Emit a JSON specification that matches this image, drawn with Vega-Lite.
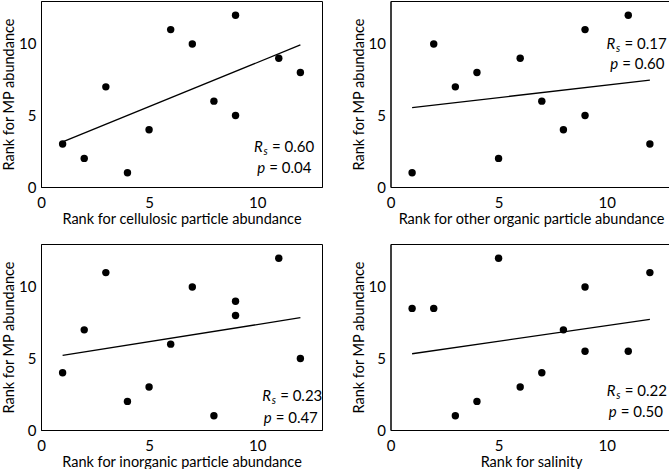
{
  "$schema": "https://vega.github.io/schema/vega-lite/v6.json",
  "padding": {"left": 1, "top": 0, "right": 0, "bottom": 0},
  "config": {
    "font": "Lato",
    "view": {"stroke": "black", "strokeWidth": 1},
    "axis": {
      "grid": false,
      "domainColor": "black",
      "labelColor": "black",
      "titleColor": "black",
      "labelFont": "Lato",
      "titleFont": "Lato",
      "labelFontSize": 15,
      "titleFontSize": 14.5,
      "titleFontWeight": "normal",
      "ticks": false,
      "tickSize": 0,
      "labelFlush": false,
      "labelOverlap": false
    },
    "axisX": {"labelPadding": 8, "titlePadding": 2},
    "axisY": {"labelPadding": 5, "titlePadding": 2}
  },
  "datasets": {
    "pts": [
      {"panel": "cellulosic", "xr": 1, "yr": 3}, {"panel": "cellulosic", "xr": 2, "yr": 2}, {"panel": "cellulosic", "xr": 3, "yr": 7}, {"panel": "cellulosic", "xr": 4, "yr": 1}, {"panel": "cellulosic", "xr": 5, "yr": 4}, {"panel": "cellulosic", "xr": 6, "yr": 11}, {"panel": "cellulosic", "xr": 7, "yr": 10}, {"panel": "cellulosic", "xr": 8, "yr": 6}, {"panel": "cellulosic", "xr": 9, "yr": 12}, {"panel": "cellulosic", "xr": 9, "yr": 5}, {"panel": "cellulosic", "xr": 11, "yr": 9}, {"panel": "cellulosic", "xr": 12, "yr": 8},
      {"panel": "organic", "xr": 1, "yr": 1}, {"panel": "organic", "xr": 2, "yr": 10}, {"panel": "organic", "xr": 3, "yr": 7}, {"panel": "organic", "xr": 4, "yr": 8}, {"panel": "organic", "xr": 5, "yr": 2}, {"panel": "organic", "xr": 6, "yr": 9}, {"panel": "organic", "xr": 7, "yr": 6}, {"panel": "organic", "xr": 8, "yr": 4}, {"panel": "organic", "xr": 9, "yr": 11}, {"panel": "organic", "xr": 9, "yr": 5}, {"panel": "organic", "xr": 11, "yr": 12}, {"panel": "organic", "xr": 12, "yr": 3},
      {"panel": "inorganic", "xr": 1, "yr": 4}, {"panel": "inorganic", "xr": 2, "yr": 7}, {"panel": "inorganic", "xr": 3, "yr": 11}, {"panel": "inorganic", "xr": 4, "yr": 2}, {"panel": "inorganic", "xr": 5, "yr": 3}, {"panel": "inorganic", "xr": 6, "yr": 6}, {"panel": "inorganic", "xr": 7, "yr": 10}, {"panel": "inorganic", "xr": 8, "yr": 1}, {"panel": "inorganic", "xr": 9, "yr": 9}, {"panel": "inorganic", "xr": 9, "yr": 8}, {"panel": "inorganic", "xr": 11, "yr": 12}, {"panel": "inorganic", "xr": 12, "yr": 5},
      {"panel": "salinity", "xr": 1, "yr": 8.5}, {"panel": "salinity", "xr": 2, "yr": 8.5}, {"panel": "salinity", "xr": 3, "yr": 1}, {"panel": "salinity", "xr": 4, "yr": 2}, {"panel": "salinity", "xr": 5, "yr": 12}, {"panel": "salinity", "xr": 6, "yr": 3}, {"panel": "salinity", "xr": 7, "yr": 4}, {"panel": "salinity", "xr": 8, "yr": 7}, {"panel": "salinity", "xr": 9, "yr": 10}, {"panel": "salinity", "xr": 9, "yr": 5.5}, {"panel": "salinity", "xr": 11, "yr": 5.5}, {"panel": "salinity", "xr": 12, "yr": 11}
    ],
    "fit": [
      {"panel": "cellulosic", "xr": 1, "yr": 3.15}, {"panel": "cellulosic", "xr": 12, "yr": 9.93},
      {"panel": "organic", "xr": 1, "yr": 5.55}, {"panel": "organic", "xr": 12, "yr": 7.47},
      {"panel": "inorganic", "xr": 1, "yr": 5.21}, {"panel": "inorganic", "xr": 12, "yr": 7.85},
      {"panel": "salinity", "xr": 1, "yr": 5.33}, {"panel": "salinity", "xr": 12, "yr": 7.73}
    ],
    "anno": [
      {"panel": "cellulosic", "sym": "R", "rest": "= 0.60", "xr": 9.85, "yr": 2.78},
      {"panel": "cellulosic", "sym": "p", "rest": "= 0.04", "xr": 10.0, "yr": 1.33},
      {"panel": "organic", "sym": "R", "rest": "= 0.17", "xr": 9.99, "yr": 10.02},
      {"panel": "organic", "sym": "p", "rest": "= 0.60", "xr": 10.17, "yr": 8.58},
      {"panel": "inorganic", "sym": "R", "rest": "= 0.23", "xr": 10.23, "yr": 2.35},
      {"panel": "inorganic", "sym": "p", "rest": "= 0.47", "xr": 10.3, "yr": 0.81},
      {"panel": "salinity", "sym": "R", "rest": "= 0.22", "xr": 10.0, "yr": 2.75},
      {"panel": "salinity", "sym": "p", "rest": "= 0.50", "xr": 10.1, "yr": 1.23}
    ],
    "minor": [{"v": 1}, {"v": 2}, {"v": 3}, {"v": 4}, {"v": 5}, {"v": 6}, {"v": 7}, {"v": 8}, {"v": 9}, {"v": 10}, {"v": 11}, {"v": 12}]
  },
  "columns": 2,
  "spacing": {"row": 57, "column": 68.5},
  "bounds": "flush",
  "concat": [
    {
      "width": 281, "height": 186,
      "encoding": {
        "x": {"field": "xr", "type": "quantitative", "scale": {"domain": [0, 13], "nice": false, "zero": false}, "axis": {"values": [0, 5, 10]}, "title": "Rank for cellulosic particle abundance"},
        "y": {"field": "yr", "type": "quantitative", "scale": {"domain": [0, 13], "nice": false, "zero": false}, "axis": {"values": [0, 5, 10]}, "title": "Rank for MP abundance"}
      },
      "layer": [
        {"data": {"name": "minor"}, "mark": {"type": "tick", "orient": "vertical", "color": "black", "size": 4, "thickness": 1, "yOffset": -2}, "encoding": {"x": {"field": "v", "type": "quantitative"}, "y": {"datum": 0, "type": "quantitative"}}},
        {"data": {"name": "minor"}, "mark": {"type": "tick", "orient": "horizontal", "color": "black", "size": 4, "thickness": 1, "xOffset": 2}, "encoding": {"y": {"field": "v", "type": "quantitative"}, "x": {"datum": 0, "type": "quantitative"}}},
        {"data": {"name": "pts"}, "transform": [{"filter": "datum.panel == 'cellulosic'"}], "mark": {"type": "point", "filled": true, "color": "black", "opacity": 1, "size": 55}},
        {"data": {"name": "fit"}, "transform": [{"filter": "datum.panel == 'cellulosic'"}], "mark": {"type": "line", "color": "black", "strokeWidth": 1.3}},
        {"data": {"name": "anno"}, "transform": [{"filter": "datum.panel == 'cellulosic'"}], "mark": {"type": "text", "align": "left", "baseline": "middle", "fontStyle": "italic", "fontSize": 15, "color": "black"}, "encoding": {"text": {"field": "sym"}}},
        {"data": {"name": "anno"}, "transform": [{"filter": "datum.panel == 'cellulosic' && datum.sym == 'R'"}], "mark": {"type": "text", "align": "left", "baseline": "middle", "fontStyle": "italic", "fontSize": 10.5, "dx": 9.5, "dy": 5, "color": "black"}, "encoding": {"text": {"value": "s"}}},
        {"data": {"name": "anno"}, "transform": [{"filter": "datum.panel == 'cellulosic' && datum.sym == 'R'"}], "mark": {"type": "text", "align": "left", "baseline": "middle", "fontSize": 15, "dx": 18, "color": "black"}, "encoding": {"text": {"field": "rest"}}},
        {"data": {"name": "anno"}, "transform": [{"filter": "datum.panel == 'cellulosic' && datum.sym == 'p'"}], "mark": {"type": "text", "align": "left", "baseline": "middle", "fontSize": 15, "dx": 12, "color": "black"}, "encoding": {"text": {"field": "rest"}}}
      ]
    },
    {
      "width": 281, "height": 186,
      "encoding": {
        "x": {"field": "xr", "type": "quantitative", "scale": {"domain": [0, 13], "nice": false, "zero": false}, "axis": {"values": [0, 5, 10]}, "title": "Rank for other organic particle abundance"},
        "y": {"field": "yr", "type": "quantitative", "scale": {"domain": [0, 13], "nice": false, "zero": false}, "axis": {"values": [0, 5, 10]}, "title": "Rank for MP abundance"}
      },
      "layer": [
        {"data": {"name": "minor"}, "mark": {"type": "tick", "orient": "vertical", "color": "black", "size": 4, "thickness": 1, "yOffset": -2}, "encoding": {"x": {"field": "v", "type": "quantitative"}, "y": {"datum": 0, "type": "quantitative"}}},
        {"data": {"name": "minor"}, "mark": {"type": "tick", "orient": "horizontal", "color": "black", "size": 4, "thickness": 1, "xOffset": 2}, "encoding": {"y": {"field": "v", "type": "quantitative"}, "x": {"datum": 0, "type": "quantitative"}}},
        {"data": {"name": "pts"}, "transform": [{"filter": "datum.panel == 'organic'"}], "mark": {"type": "point", "filled": true, "color": "black", "opacity": 1, "size": 55}},
        {"data": {"name": "fit"}, "transform": [{"filter": "datum.panel == 'organic'"}], "mark": {"type": "line", "color": "black", "strokeWidth": 1.3}},
        {"data": {"name": "anno"}, "transform": [{"filter": "datum.panel == 'organic'"}], "mark": {"type": "text", "align": "left", "baseline": "middle", "fontStyle": "italic", "fontSize": 15, "color": "black"}, "encoding": {"text": {"field": "sym"}}},
        {"data": {"name": "anno"}, "transform": [{"filter": "datum.panel == 'organic' && datum.sym == 'R'"}], "mark": {"type": "text", "align": "left", "baseline": "middle", "fontStyle": "italic", "fontSize": 10.5, "dx": 9.5, "dy": 5, "color": "black"}, "encoding": {"text": {"value": "s"}}},
        {"data": {"name": "anno"}, "transform": [{"filter": "datum.panel == 'organic' && datum.sym == 'R'"}], "mark": {"type": "text", "align": "left", "baseline": "middle", "fontSize": 15, "dx": 18, "color": "black"}, "encoding": {"text": {"field": "rest"}}},
        {"data": {"name": "anno"}, "transform": [{"filter": "datum.panel == 'organic' && datum.sym == 'p'"}], "mark": {"type": "text", "align": "left", "baseline": "middle", "fontSize": 15, "dx": 12, "color": "black"}, "encoding": {"text": {"field": "rest"}}}
      ]
    },
    {
      "width": 281, "height": 186,
      "encoding": {
        "x": {"field": "xr", "type": "quantitative", "scale": {"domain": [0, 13], "nice": false, "zero": false}, "axis": {"values": [0, 5, 10]}, "title": "Rank for inorganic particle abundance"},
        "y": {"field": "yr", "type": "quantitative", "scale": {"domain": [0, 13], "nice": false, "zero": false}, "axis": {"values": [0, 5, 10]}, "title": "Rank for MP abundance"}
      },
      "layer": [
        {"data": {"name": "minor"}, "mark": {"type": "tick", "orient": "vertical", "color": "black", "size": 4, "thickness": 1, "yOffset": -2}, "encoding": {"x": {"field": "v", "type": "quantitative"}, "y": {"datum": 0, "type": "quantitative"}}},
        {"data": {"name": "minor"}, "mark": {"type": "tick", "orient": "horizontal", "color": "black", "size": 4, "thickness": 1, "xOffset": 2}, "encoding": {"y": {"field": "v", "type": "quantitative"}, "x": {"datum": 0, "type": "quantitative"}}},
        {"data": {"name": "pts"}, "transform": [{"filter": "datum.panel == 'inorganic'"}], "mark": {"type": "point", "filled": true, "color": "black", "opacity": 1, "size": 55}},
        {"data": {"name": "fit"}, "transform": [{"filter": "datum.panel == 'inorganic'"}], "mark": {"type": "line", "color": "black", "strokeWidth": 1.3}},
        {"data": {"name": "anno"}, "transform": [{"filter": "datum.panel == 'inorganic'"}], "mark": {"type": "text", "align": "left", "baseline": "middle", "fontStyle": "italic", "fontSize": 15, "color": "black"}, "encoding": {"text": {"field": "sym"}}},
        {"data": {"name": "anno"}, "transform": [{"filter": "datum.panel == 'inorganic' && datum.sym == 'R'"}], "mark": {"type": "text", "align": "left", "baseline": "middle", "fontStyle": "italic", "fontSize": 10.5, "dx": 9.5, "dy": 5, "color": "black"}, "encoding": {"text": {"value": "s"}}},
        {"data": {"name": "anno"}, "transform": [{"filter": "datum.panel == 'inorganic' && datum.sym == 'R'"}], "mark": {"type": "text", "align": "left", "baseline": "middle", "fontSize": 15, "dx": 18, "color": "black"}, "encoding": {"text": {"field": "rest"}}},
        {"data": {"name": "anno"}, "transform": [{"filter": "datum.panel == 'inorganic' && datum.sym == 'p'"}], "mark": {"type": "text", "align": "left", "baseline": "middle", "fontSize": 15, "dx": 12, "color": "black"}, "encoding": {"text": {"field": "rest"}}}
      ]
    },
    {
      "width": 281, "height": 186,
      "encoding": {
        "x": {"field": "xr", "type": "quantitative", "scale": {"domain": [0, 13], "nice": false, "zero": false}, "axis": {"values": [0, 5, 10]}, "title": "Rank for salinity"},
        "y": {"field": "yr", "type": "quantitative", "scale": {"domain": [0, 13], "nice": false, "zero": false}, "axis": {"values": [0, 5, 10]}, "title": "Rank for MP abundance"}
      },
      "layer": [
        {"data": {"name": "minor"}, "mark": {"type": "tick", "orient": "vertical", "color": "black", "size": 4, "thickness": 1, "yOffset": -2}, "encoding": {"x": {"field": "v", "type": "quantitative"}, "y": {"datum": 0, "type": "quantitative"}}},
        {"data": {"name": "minor"}, "mark": {"type": "tick", "orient": "horizontal", "color": "black", "size": 4, "thickness": 1, "xOffset": 2}, "encoding": {"y": {"field": "v", "type": "quantitative"}, "x": {"datum": 0, "type": "quantitative"}}},
        {"data": {"name": "pts"}, "transform": [{"filter": "datum.panel == 'salinity'"}], "mark": {"type": "point", "filled": true, "color": "black", "opacity": 1, "size": 55}},
        {"data": {"name": "fit"}, "transform": [{"filter": "datum.panel == 'salinity'"}], "mark": {"type": "line", "color": "black", "strokeWidth": 1.3}},
        {"data": {"name": "anno"}, "transform": [{"filter": "datum.panel == 'salinity'"}], "mark": {"type": "text", "align": "left", "baseline": "middle", "fontStyle": "italic", "fontSize": 15, "color": "black"}, "encoding": {"text": {"field": "sym"}}},
        {"data": {"name": "anno"}, "transform": [{"filter": "datum.panel == 'salinity' && datum.sym == 'R'"}], "mark": {"type": "text", "align": "left", "baseline": "middle", "fontStyle": "italic", "fontSize": 10.5, "dx": 9.5, "dy": 5, "color": "black"}, "encoding": {"text": {"value": "s"}}},
        {"data": {"name": "anno"}, "transform": [{"filter": "datum.panel == 'salinity' && datum.sym == 'R'"}], "mark": {"type": "text", "align": "left", "baseline": "middle", "fontSize": 15, "dx": 18, "color": "black"}, "encoding": {"text": {"field": "rest"}}},
        {"data": {"name": "anno"}, "transform": [{"filter": "datum.panel == 'salinity' && datum.sym == 'p'"}], "mark": {"type": "text", "align": "left", "baseline": "middle", "fontSize": 15, "dx": 12, "color": "black"}, "encoding": {"text": {"field": "rest"}}}
      ]
    }
  ]
}
